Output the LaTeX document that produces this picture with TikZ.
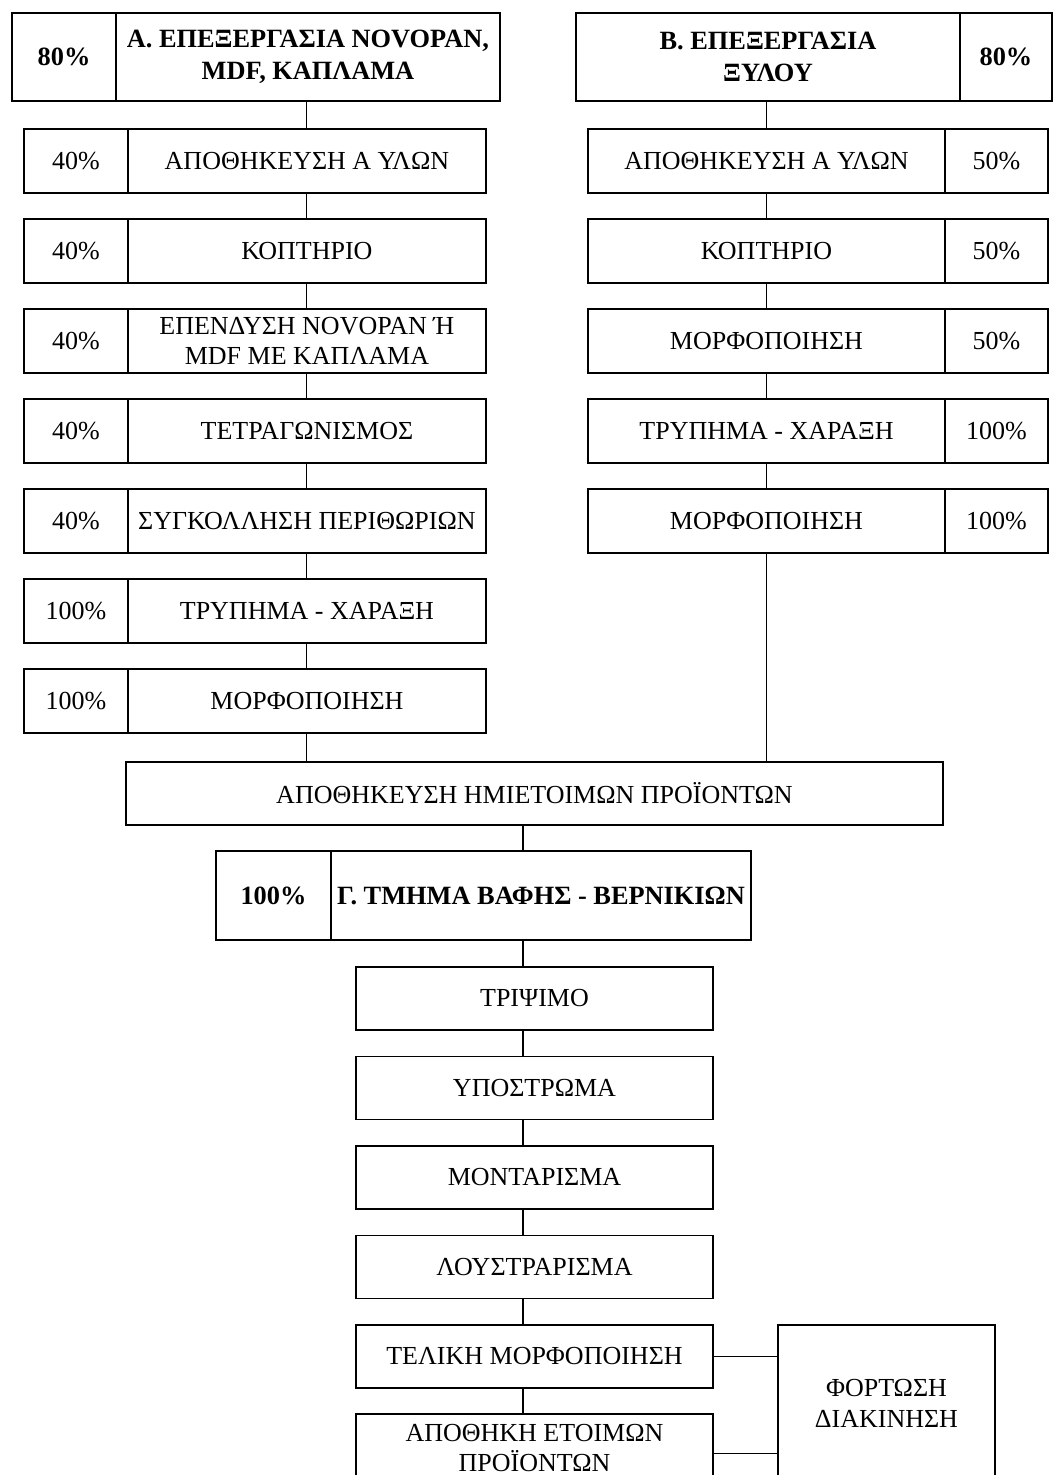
\documentclass[tikz,border=0pt]{standalone}
\usepackage{fontspec}
\setmainfont{Liberation Serif}
\usetikzlibrary{positioning}

\tikzset{
  box/.style={draw, line width=0.8pt, rectangle, inner sep=1pt, outer sep=0pt,
    align=center, font=\fontsize{14.8}{17.5}\selectfont},
  row/.style={box, minimum height=1.28cm},
  head/.style={box, minimum height=1.76cm, font=\fontsize{15}{18}\selectfont\bfseries},
  link/.style={line width=0.6pt},
}

\begin{document}
\begin{tikzpicture}[x=0.02cm, y=-0.02cm]
  \useasboundingbox (0,0) rectangle (1053,1475);
  \clip (0,0) rectangle (1053,1475);

  % Header A
  \node[head, minimum width=2.08cm] (aP) at (64,57) {80\%};
  \node[head, minimum width=7.68cm, right=0pt of aP] (aH) {Α. ΕΠΕΞΕΡΓΑΣΙΑ NOVOPAN,\\MDF, ΚΑΠΛΑΜΑ};

  % Left column rows
  \foreach \i/\p/\t in {1/40\%/ΑΠΟΘΗΚΕΥΣΗ Α ΥΛΩΝ, 2/40\%/ΚΟΠΤΗΡΙΟ,
      3/40\%/{ΕΠΕΝΔΥΣΗ NOVOPAN Ή\\MDF ΜΕ ΚΑΠΛΑΜΑ}, 4/40\%/ΤΕΤΡΑΓΩΝΙΣΜΟΣ,
      5/40\%/ΣΥΓΚΟΛΛΗΣΗ ΠΕΡΙΘΩΡΙΩΝ, 6/100\%/ΤΡΥΠΗΜΑ - ΧΑΡΑΞΗ, 7/100\%/ΜΟΡΦΟΠΟΙΗΣΗ}{
    \node[row, minimum width=2.08cm] (aP\i) at (76,{71+90*\i}) {\p};
    \node[row, minimum width=7.16cm, right=0pt of aP\i] (a\i) {\t};
  }

  % Header B
  \node[head, minimum width=7.68cm] (bH) at (768,57) {Β. ΕΠΕΞΕΡΓΑΣΙΑ\\ΞΥΛΟΥ};
  \node[head, minimum width=1.84cm, right=0pt of bH] (bP) {80\%};

  % Right column rows
  \foreach \i/\t/\p in {1/ΑΠΟΘΗΚΕΥΣΗ Α ΥΛΩΝ/50\%, 2/ΚΟΠΤΗΡΙΟ/50\%,
      3/ΜΟΡΦΟΠΟΙΗΣΗ/50\%, 4/ΤΡΥΠΗΜΑ - ΧΑΡΑΞΗ/100\%, 5/ΜΟΡΦΟΠΟΙΗΣΗ/100\%}{
    \node[row, minimum width=7.14cm] (b\i) at (766.5,{71+90*\i}) {\t};
    \node[row, minimum width=2.06cm, right=0pt of b\i] (bP\i) {\p};
  }

  % Semi-finished storage
  \node[box, minimum width=16.34cm, minimum height=1.26cm] (mid) at (534.5,793.5)
    {ΑΠΟΘΗΚΕΥΣΗ ΗΜΙΕΤΟΙΜΩΝ ΠΡΟΪΟΝΤΩΝ};

  % Header C
  \node[head, minimum width=2.3cm, minimum height=1.78cm] (cP) at (273.5,895.5) {100\%};
  \node[head, minimum width=8.4cm, minimum height=1.78cm, right=0pt of cP] (cH)
    {Γ. ΤΜΗΜΑ ΒΑΦΗΣ - ΒΕΡΝΙΚΙΩΝ};

  % Painting steps
  \foreach \i/\t in {1/ΤΡΙΨΙΜΟ, 2/ΥΠΟΣΤΡΩΜΑ, 3/ΜΟΝΤΑΡΙΣΜΑ, 4/ΛΟΥΣΤΡΑΡΙΣΜΑ,
      5/ΤΕΛΙΚΗ ΜΟΡΦΟΠΟΙΗΣΗ}{
    \node[box, minimum width=7.14cm, minimum height=1.26cm] (c\i) at (534.5,{909+89.5*\i}) {\t};
  }
  \node[box, minimum width=7.14cm, minimum height=1.36cm] (c6) at (534.5,1448)
    {ΑΠΟΘΗΚΗ ΕΤΟΙΜΩΝ\\ΠΡΟΪΟΝΤΩΝ};
  \node[box, minimum width=4.34cm, minimum height=3.14cm] (ship) at (886.5,1403.5)
    {ΦΟΡΤΩΣΗ\\ΔΙΑΚΙΝΗΣΗ};

  % Connectors
  \coordinate (spine) at (523,0);
  \draw[link] (a1.north) -- (a1.north |- aH.south);
  \foreach \i in {1,...,6}{
    \pgfmathtruncatemacro\j{\i+1}
    \draw[link] (a\i.south) -- (a\j.north);
  }
  \draw[link] (b1.north) -- (b1.north |- bH.south);
  \foreach \i in {1,...,4}{
    \pgfmathtruncatemacro\j{\i+1}
    \draw[link] (b\i.south) -- (b\j.north);
  }
  \draw[link] (a7.south) -- (a7.south |- mid.north);
  \draw[link] (b5.south) -- (b5.south |- mid.north);
  \draw[link] (mid.south -| spine) -- (cH.north -| spine);
  \draw[link] (cH.south -| spine) -- (c1.north -| spine);
  \foreach \i in {1,...,5}{
    \pgfmathtruncatemacro\j{\i+1}
    \draw[link] (c\i.south -| spine) -- (c\j.north -| spine);
  }
  \draw[link] (c5.east) -- (c5.east -| ship.west);
  \draw[link] ([yshift=-3pt]c6.east) -- ([yshift=-3pt]c6.east -| ship.west);

\end{tikzpicture}
\end{document}
